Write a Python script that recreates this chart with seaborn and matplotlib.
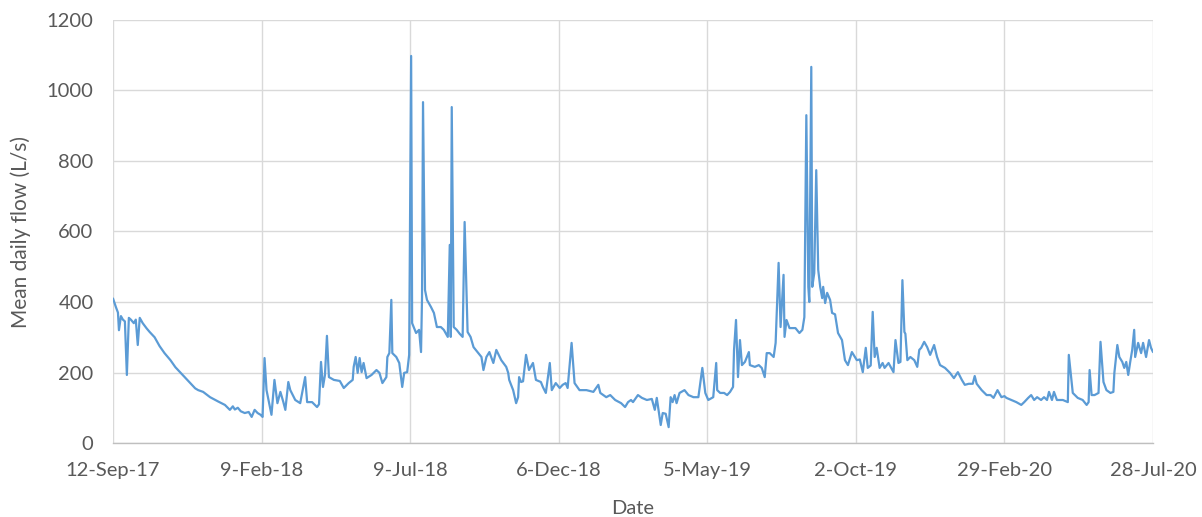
import numpy as np
import pandas as pd
import matplotlib
matplotlib.use("Agg")
import matplotlib.pyplot as plt
import seaborn as sns

# Record start and daily mean flow readings (day offset from start, L/s)
start_date = "2017-09-12"
day_offset = [
    0, 3, 5, 6, 8, 10, 12, 14, 16, 18, 21, 23, 25, 27, 30, 34, 37, 42, 47, 52,
    58, 63, 68, 73, 78, 83, 86, 91, 98, 106, 113, 118, 121, 123, 126, 129, 133, 137, 140, 143,
    146, 149, 151, 153, 155, 157, 160, 163, 166, 169, 172, 174, 177, 179, 184, 189, 194, 196, 201, 206,
    208, 210, 212, 214, 216, 218, 223, 229, 233, 238, 242, 243, 245, 247, 249, 251, 253, 256, 261, 266,
    269, 272, 276, 277, 279, 281, 282, 286, 289, 292, 294, 297, 299, 301, 302, 306, 309, 311, 312, 313,
    315, 317, 321, 324, 327, 331, 334, 338, 340, 341, 342, 344, 347, 350, 353, 355, 358, 361, 364, 368,
    372, 374, 377, 380, 384, 387, 392, 397, 399, 400, 404, 407, 409, 410, 412, 414, 417, 420, 424, 427,
    432, 434, 437, 441, 443, 447, 451, 454, 457, 459, 463, 466, 471, 478, 485, 490, 492, 498, 502, 507,
    513, 517, 520, 523, 525, 530, 534, 539, 544, 547, 549, 553, 555, 558, 561, 563, 565, 567, 569, 572,
    577, 581, 586, 591, 595, 598, 601, 606, 609, 610, 613, 617, 620, 623, 626, 627, 629, 631, 633, 635,
    638, 642, 643, 648, 652, 655, 658, 660, 663, 667, 669, 671, 672, 674, 677, 678, 680, 683, 689, 693,
    696, 698, 700, 702, 703, 705, 706, 708, 710, 712, 714, 716, 717, 719, 721, 724, 726, 729, 732, 736,
    739, 742, 746, 751, 754, 757, 760, 762, 765, 767, 769, 771, 774, 777, 779, 783, 788, 790, 793, 795,
    797, 799, 800, 802, 805, 809, 812, 814, 816, 819, 822, 825, 829, 832, 835, 840, 845, 849, 853, 857,
    860, 864, 868, 870, 872, 877, 882, 886, 889, 893, 897, 900, 902, 907, 912, 917, 920, 924, 927, 930,
    933, 937, 940, 943, 945, 948, 950, 953, 959, 964, 965, 969, 974, 979, 983, 985, 986, 988, 991, 995,
    997, 1000, 1003, 1007, 1010, 1011, 1014, 1016, 1019, 1021, 1023, 1025, 1027, 1029, 1031, 1032, 1035, 1038, 1040, 1043,
    1046, 1048, 1050,
]
flow = [
    410, 385, 370, 320, 360, 350, 345, 193, 355, 350, 340, 350, 278, 355, 340, 325, 315, 300, 275, 255,
    235, 215, 200, 185, 170, 155, 150, 145, 130, 118, 108, 94, 104, 95, 100, 90, 85, 88, 74, 94,
    85, 80, 74, 241, 150, 122, 80, 179, 113, 145, 116, 94, 173, 150, 122, 113, 187, 116, 116, 102,
    110, 230, 159, 193, 304, 187, 179, 176, 156, 170, 179, 216, 244, 199, 241, 201, 227, 184, 193, 207,
    199, 170, 187, 244, 255, 406, 255, 244, 227, 159, 199, 201, 250, 1098, 340, 312, 321, 258, 414, 967,
    434, 406, 386, 369, 329, 329, 321, 301, 562, 301, 953, 329, 321, 310, 301, 627, 315, 301, 272, 258,
    244, 207, 244, 258, 227, 264, 235, 216, 199, 179, 150, 113, 130, 187, 173, 175, 250, 207, 227, 179,
    173, 159, 142, 227, 150, 170, 156, 165, 170, 156, 284, 170, 150, 150, 145, 165, 142, 130, 136, 122,
    113, 102, 116, 122, 116, 136, 128, 122, 125, 94, 128, 51, 85, 83, 45, 130, 116, 136, 113, 142,
    150, 136, 130, 130, 213, 142, 122, 130, 227, 150, 142, 142, 136, 145, 159, 264, 349, 187, 292, 221,
    230, 258, 221, 216, 221, 213, 187, 255, 255, 244, 284, 440, 511, 329, 477, 301, 349, 326, 326, 312,
    321, 357, 930, 443, 400, 1067, 443, 482, 774, 491, 443, 411, 443, 397, 426, 406, 369, 365, 312, 292,
    235, 221, 258, 235, 237, 201, 270, 213, 220, 372, 244, 270, 213, 227, 213, 227, 201, 292, 227, 230,
    462, 315, 310, 235, 244, 235, 216, 264, 270, 287, 272, 250, 278, 244, 221, 213, 199, 184, 201, 179,
    165, 168, 168, 190, 168, 150, 136, 136, 128, 150, 130, 133, 128, 122, 116, 108, 116, 128, 136, 122,
    130, 122, 130, 122, 145, 122, 145, 122, 122, 116, 250, 142, 128, 122, 108, 116, 207, 136, 136, 142,
    287, 173, 150, 142, 145, 199, 278, 244, 230, 213, 230, 193, 230, 264, 321, 244, 284, 255, 284, 244,
    292, 270, 258,
]

# Axis tick positions (days from start) and their labels
tick_days = [0, 150, 300, 450, 600, 750, 900, 1050]
tick_labels = ["12-Sep-17", "9-Feb-18", "9-Jul-18", "6-Dec-18",
               "5-May-19", "2-Oct-19", "29-Feb-20", "28-Jul-20"]
y_ticks = [0, 200, 400, 600, 800, 1000, 1200]

t0 = pd.Timestamp(start_date)
df = pd.DataFrame({
    "Date": t0 + pd.to_timedelta(day_offset, unit="D"),
    "flow": flow,
})

sns.set_style("white")
plt.rcParams["font.family"] = ["Lato", "DejaVu Sans"]

fig = plt.figure(figsize=(12.02, 5.17), dpi=100)
ax = fig.add_axes([113 / 1202, 1 - 443 / 517, 1040 / 1202, 423 / 517])

sns.lineplot(data=df, x="Date", y="flow", ax=ax, color="#5B9BD5",
             linewidth=1.6, estimator=None)

ax.set_xlim(t0, t0 + pd.Timedelta(days=1050))
ax.set_ylim(0, 1200)
ax.set_xticks([t0 + pd.Timedelta(days=d) for d in tick_days])
ax.set_xticklabels(tick_labels)
ax.set_yticks(y_ticks)
ax.set_yticklabels([str(v) for v in y_ticks])

grid_color = "#d9d9d9"
ax.grid(True, color=grid_color, linewidth=1.0)
ax.set_axisbelow(True)
for side in ["top", "right", "left"]:
    ax.spines[side].set_visible(False)
ax.spines["bottom"].set_color("#bfbfbf")
ax.spines["bottom"].set_linewidth(1.0)

ax.tick_params(axis="both", length=0, labelsize=14.5, colors="#595959")
ax.tick_params(axis="x", pad=14)
ax.tick_params(axis="y", pad=14)

ax.set_xlabel("Date", fontsize=14.5, color="#595959", labelpad=15)
ax.set_ylabel("Mean daily flow (L/s)", fontsize=15, color="#595959", labelpad=11)

fig.savefig("out.png", dpi=100, facecolor="white")
